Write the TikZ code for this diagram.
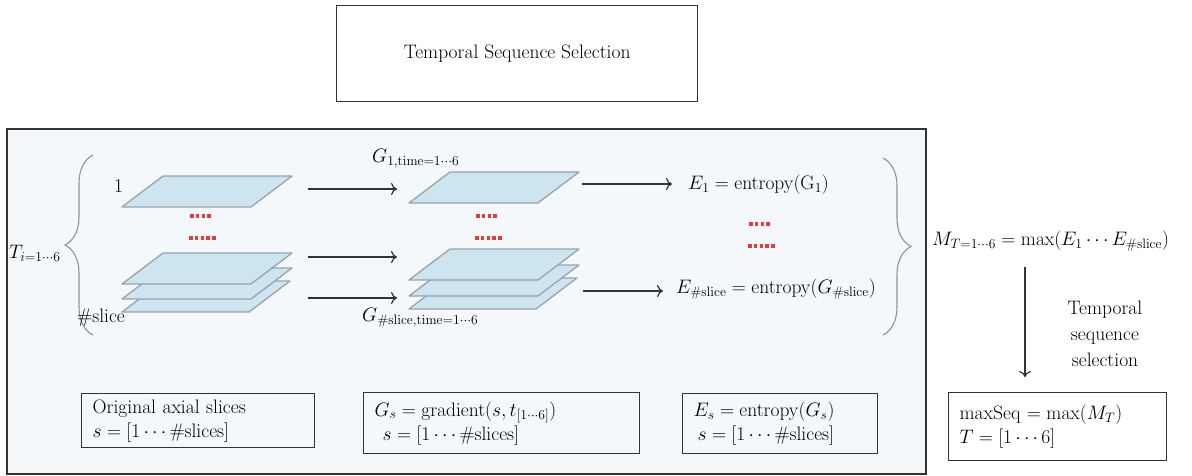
\RequirePackage{fix-cm}
\documentclass[tikz,border=0pt]{standalone}
\usepackage{amsmath}
\usetikzlibrary{decorations.pathreplacing,arrows.meta}
\definecolor{panelbg}{HTML}{F4F8FA}
\definecolor{slabfill}{HTML}{CDE4F1}
\definecolor{slabedge}{HTML}{97A3AC}
\definecolor{dotred}{HTML}{E8393B}
\definecolor{ink}{HTML}{333333}
\definecolor{bracegray}{HTML}{8C949B}
\newcommand\slab[3]{\draw[slabstyle] (#1,#2) -- ++(41,-31) -- ++(#3,0) -- ++(-41,31) -- cycle;}
\begin{document}
\begin{tikzpicture}[x=1pt,y=-1pt,
  font=\fontsize{19.5}{24}\selectfont,
  slabstyle/.style={fill=slabfill,draw=slabedge,line width=1.3pt,line join=round},
  reddots/.style={draw=dotred,line width=3.4pt,dash pattern=on 3.6pt off 2.2pt},
  flow/.style={draw=ink,line width=1.2pt,-{To[length=6pt,width=12pt]}},
  frame/.style={draw=ink,line width=1.3pt},
  txtbox/.style={frame,align=left,anchor=north west,inner xsep=10pt,inner ysep=0pt},
  curly/.style={draw=bracegray,line width=1.1pt,decorate,decoration={brace,amplitude=28pt,aspect=0.5}},
  lab/.style={inner sep=0pt}]
\useasboundingbox (0,0) rectangle (1192,476);
% top box
\node[frame,minimum width=361pt,minimum height=96pt,anchor=north west] (top) at (336,5) {};
\node[lab] (toptxt) at (top.center) {Temporal Sequence Selection};
% panel
\draw[frame,fill=panelbg] (7,129) rectangle (926,474);
\coordinate (panelTL) at (7,129);
% braces
\draw[curly] (93,335) -- (93,155);
\draw[curly] (883,158) -- (883,335);
\node[lab,anchor=west] (Ti) at (9,253) {$T_{i=1\cdots6}$};
% left slabs
\slab{122}{207}{129}
\slab{122}{312}{127}
\slab{122}{299}{129}
\slab{122}{284}{129}
\node[lab,anchor=west] (lab1) at (114,186) {1};
\node[lab,anchor=west] (labn) at (77,318) {\#slice};
% middle slabs
\slab{409}{203}{129}
\slab{409}{309}{127}
\slab{409}{296}{129}
\slab{409}{280}{129}
\node[lab,anchor=west] (g1) at (372,159) {$G_{1,\mathrm{time}=1\cdots6}$};
\node[lab,anchor=west] (gn) at (362,318) {$G_{\#\mathrm{slice},\mathrm{time}=1\cdots6}$};
% red dots
\draw[reddots] (190,216) -- (213,216);
\draw[reddots] (189,238) -- (217,238);
\draw[reddots] (476,216) -- (499,216);
\draw[reddots] (475,238) -- (503,238);
\draw[reddots] (749,224) -- (772,224);
\draw[reddots] (748,246) -- (776,246);
% arrows left -> middle
\coordinate (a1s) at (308,189); \coordinate (a1e) at (397,189);
\coordinate (a2s) at (308,257); \coordinate (a2e) at (397,257);
\coordinate (a3s) at (308,298); \coordinate (a3e) at (397,298);
\draw[flow] (a1s) -- (a1e);
\draw[flow] (a2s) -- (a2e);
\draw[flow] (a3s) -- (a3e);
% arrows middle -> entropy
\node[lab,anchor=west] (e1) at (688,185) {$E_1 = \mathrm{entropy}(\mathrm{G}_1)$};
\node[lab,anchor=west] (en) at (676,289) {$E_{\#\mathrm{slice}} = \mathrm{entropy}(G_{\#\mathrm{slice}})$};
\coordinate (b1s) at (582,184); \coordinate (b1e) at (672,184);
\coordinate (b2s) at (583,291); \coordinate (b2e) at (663,291);
\draw[flow] (b1s) -- (b1e);
\draw[flow] (b2s) -- (b2e);
% right side
\node[lab,anchor=west] (M) at (932,241) {$M_{T=1\cdots6} = \max(E_1\cdots E_{\#\mathrm{slice}})$};
\coordinate (d1) at (1025,267);
\coordinate (d2) at (1025,377);
\draw[flow] (d1) -- (d2);
\node[lab,align=center,font=\fontsize{19.5}{26}\selectfont] (tss) at (1105,334) {Temporal\\sequence\\selection};
\node[txtbox,minimum width=218pt,minimum height=68pt,text width=196pt,inner xsep=11pt] (mx) at (948,392)
  {maxSeq $=\max(M_T)$\\$T=[1\cdots6]$};
% bottom boxes
\node[txtbox,minimum width=233pt,minimum height=54pt,text width=211pt,inner xsep=11pt] (bx1) at (81,393)
  {Original axial slices\\$s=[1\cdots\#\mathrm{slices}]$};
\node[txtbox,minimum width=276pt,minimum height=61pt,text width=254pt,inner xsep=11pt] (bx2) at (363,392)
  {$G_s=\mathrm{gradient}(s,t_{[1\cdots6]})$\\\hspace*{8pt}$s=[1\cdots\#\mathrm{slices}]$};
\node[txtbox,minimum width=195pt,minimum height=60pt,text width=173pt,inner xsep=11pt] (bx3) at (682,393)
  {$E_s=\mathrm{entropy}(G_s)$\\\hspace*{4pt}$s=[1\cdots\#\mathrm{slices}]$};
\end{tikzpicture}
\end{document}
